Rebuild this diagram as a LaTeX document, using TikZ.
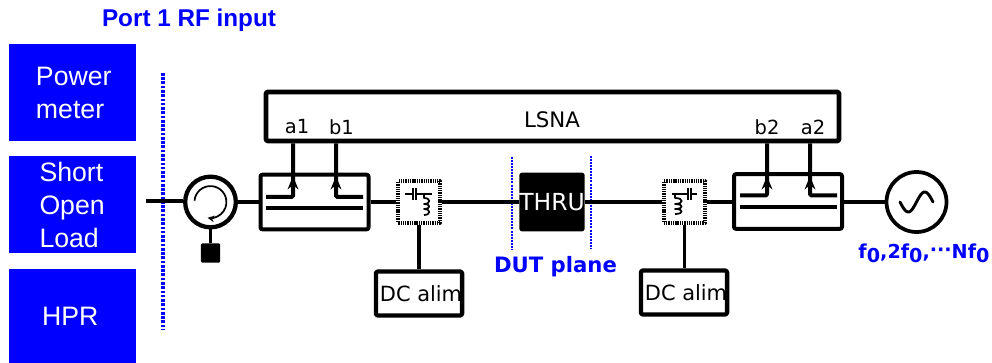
\documentclass[tikz,border=0pt]{standalone}
\usepackage{fontspec}
\setmainfont{DejaVu Sans}
\newfontfamily\arialfont{Liberation Sans}
\usetikzlibrary{arrows.meta, calc}
\definecolor{cblue}{HTML}{0000FF}
\tikzset{
  every picture/.style={x=0.75pt, y=-0.75pt, line join=round},
  bluebox/.style={fill=cblue, text=white, align=left, inner ysep=0pt, inner xsep=0pt, minimum width=95.25pt, font=\arialfont\fontsize{20}{24.75}\selectfont},
  frame/.style={draw, rounded corners=1.5pt, inner sep=0pt, line width=#1},
  frame/.default=3pt,
  coupler/.style={frame=3pt, minimum width=81pt, minimum height=41pt},
  biastee/.style={draw, line width=3pt, dash pattern=on 1pt off 0.7pt, minimum width=31pt, minimum height=31pt, inner sep=0pt},
  dcbox/.style={frame=3.2pt, minimum width=62.5pt, minimum height=33pt, font=\fontsize{15.7}{18}\selectfont},
  wire/.style={line width=2.5pt},
  coupled/.style={line width=3pt, rounded corners=1pt},
  tap/.style={-{Stealth[length=10pt, width=8pt]}, line width=2.6pt},
  tiny/.style={line width=1.3pt},
  portlabel/.style={font=\fontsize{14.6}{16}\selectfont},
  bluelabel/.style={text=cblue, font=\fontsize{15.9}{18}\selectfont\bfseries},
  plane/.style={draw=cblue, line width=#1},
}

\begin{document}
\begin{tikzpicture}
  \useasboundingbox (0,0) rectangle (992,363);
  % source selection
  \foreach \name/\y/\h/\w/\txt in {power/92.5/97/73/{Power\\meter}, sol/204.5/97/66/{Short\\Open\\Load}, hpr/316/94/61/{HPR}} {
    \node[bluebox, minimum height=\h*0.75pt, text width=\w*0.75pt] (\name) at (72.5,\y) {\txt};
  }
  \node[text=cblue, font=\arialfont\fontsize{18.2}{20}\selectfont\bfseries] (rfin) at (189,20) {Port 1 RF input};
  \node[inner sep=0pt] (pltop) at (163,72) {};
  \node[inner sep=0pt] (plbot) at (163,331) {};
  \draw[plane=2.6pt, dash pattern=on 2pt off 1.2pt] (pltop) -- (plbot);

  % receiver
  \node[frame=3.6pt, minimum width=429.75pt, minimum height=36.75pt] (lsna) at (552.5,116.5) {};
  \node[font=\fontsize{16}{18}\selectfont] (lsnatxt) at (552,120) {LSNA};

  % port 1 side
  \coordinate (in) at (146,201);
  \node[draw, circle, line width=3.2pt, minimum size=38pt, inner sep=0pt] (circ) at (210.5,202) {};
  \draw[-{Stealth[length=5pt, width=5pt]}, line width=1.3pt] ($(circ)+(-12pt,1pt)$) arc[start angle=175, end angle=-100, radius=12pt];
  \node[fill, rounded corners=1pt, minimum size=14.5pt, inner sep=0pt] (term) at (210.5,253) {};
  \node[coupler] (cpl1) at (314.5,202) {};
  \node[biastee] (tee1) at (419,202) {};
  \node[dcbox] (dc1) at (419,293.5) {\kern3pt DC alim};

  % fixture
  \node[fill, rounded corners=2pt, text=white, minimum width=48pt, minimum height=44pt, inner sep=0pt, font=\fontsize{17.6}{18}\selectfont] (thru) at (552,202) {THRU};
  \node[inner sep=0pt] (dutla) at (512,156) {};
  \node[inner sep=0pt] (dutlb) at (512,250) {};
  \node[inner sep=0pt] (dutra) at (591,155) {};
  \node[inner sep=0pt] (dutrb) at (591,250) {};
  \draw[plane=1.5pt, dash pattern=on 1.5pt off 0.8pt] (dutla) -- (dutlb);
  \draw[plane=1.5pt, dash pattern=on 1.5pt off 0.8pt] (dutra) -- (dutrb);
  \node[bluelabel] (dut) at (555.5,267) {DUT plane};

  % port 2 side
  \node[biastee] (tee2) at (684.5,202) {};
  \node[dcbox] (dc2) at (684,292.5) {\kern3pt DC alim};
  \node[coupler] (cpl2) at (788,201.5) {};
  \node[draw, circle, line width=2.8pt, minimum size=45pt, inner sep=0pt] (gen) at (916.5,202) {};
  \draw[line width=2.2pt, line cap=round] plot[domain=0:1, samples=30, smooth] (900+\x*33, {202+10*sin(\x*360)});
  \node[bluelabel, font=\fontsize{14.4}{18}\selectfont\bfseries, inner sep=0pt] (harm) at (924,253) {f\raisebox{-3pt}{0},2f\raisebox{-3pt}{0},\raisebox{1pt}{···}Nf\raisebox{-3pt}{0}};

  % through line
  \draw[wire] (in) -- (circ.west |- in);
  \draw[wire] (circ.east |- cpl1) -- (cpl1.west);
  \draw[wire] (cpl1.east |- tee1) -- (tee1.west);
  \draw[wire] (tee1.east) -- (thru.west |- tee1);
  \draw[wire] (thru.east |- tee2) -- (tee2.west);
  \draw[wire] (tee2.east) -- (cpl2.west |- tee2);
  \draw[wire] (cpl2.east |- gen) -- (gen.west);
  \draw[wire, line width=1.8pt] (circ.south) -- (term.north);
  \draw[wire] (tee1.south -| dc1) -- (dc1.north);
  \draw[wire] (tee2.south) -- (tee2.south |- dc2.north);

  % couplers
  \foreach \cpl/\x/\xend/\y/\lbl/\xt in {cpl1/293/266/197/a1/297, cpl1/336/363/197/b1/341.5, cpl2/767/740/195.5/b2/767, cpl2/810/837/195.5/a2/813} {
    \coordinate (c\lbl) at (\x,\y);
    \draw[coupled] (\xend,\y) -- (c\lbl) -- (c\lbl |- \cpl.north) -- (c\lbl |- lsna.south);
    \draw[tap] (c\lbl) -- ($(c\lbl)+(0,-\y+176)$);
    \node[portlabel] (t\lbl) at (\xt,127) {\lbl};
  }
  \draw[coupled] (266,208) -- (363,208);
  \draw[coupled] (740,207) -- (837,207);

  % bias tee symbols
  \draw[tiny] (405,194) -- (413,194) (416,194) -- (432,194);
  \draw[tiny] (413,188) -- (413,200) (416,188) -- (416,200);
  \draw[tiny] (424,194) -- (424,198) .. controls (431,198) and (431,204) .. (424,204) .. controls (431,204) and (431,209) .. (424,209) .. controls (431,209) and (431,215) .. (424,215);
  \draw[tiny] (672,194) -- (688,194) (691,194) -- (697,194);
  \draw[tiny] (688,188) -- (688,200) (691,188) -- (691,200);
  \draw[tiny] (675,194) -- (675,198) .. controls (684,198) and (684,204) .. (675,204) .. controls (684,204) and (684,209) .. (675,209) .. controls (684,209) and (684,214) .. (675,214);
\end{tikzpicture}
\end{document}
